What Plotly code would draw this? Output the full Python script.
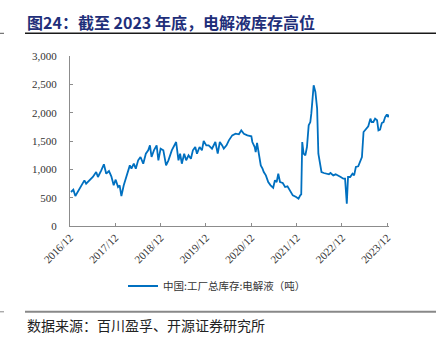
import plotly.graph_objects as go

dates = [
    "2016-12-09", "2016-12-28", "2017-01-13", "2017-02-01", "2017-02-28", "2017-03-27",
    "2017-04-10", "2017-05-07", "2017-06-03", "2017-06-30", "2017-07-14", "2017-08-10",
    "2017-08-31", "2017-09-19", "2017-10-11", "2017-10-30", "2017-11-18", "2017-12-04",
    "2017-12-23", "2018-01-05", "2018-01-19", "2018-02-07", "2018-03-01", "2018-03-28",
    "2018-04-10", "2018-04-29", "2018-05-15", "2018-06-03", "2018-06-22", "2018-07-14",
    "2018-08-04", "2018-08-23", "2018-09-06", "2018-09-19", "2018-10-08", "2018-10-30",
    "2018-11-13", "2018-12-01", "2018-12-23", "2019-01-14", "2019-02-02", "2019-03-01",
    "2019-04-05", "2019-04-24", "2019-05-07", "2019-05-21", "2019-06-09", "2019-06-25",
    "2019-07-14", "2019-08-02", "2019-08-18", "2019-09-06", "2019-09-20", "2019-10-11",
    "2019-10-30", "2019-11-13", "2019-12-04", "2019-12-23", "2020-01-19", "2020-02-15",
    "2020-03-05", "2020-03-22", "2020-04-10", "2020-04-23", "2020-05-15", "2020-06-03",
    "2020-06-30", "2020-07-27", "2020-08-23", "2020-09-11", "2020-10-02", "2020-10-30",
    "2020-12-01", "2020-12-09", "2020-12-28", "2021-01-05", "2021-01-16", "2021-02-01",
    "2021-02-15", "2021-03-01", "2021-03-11", "2021-03-28", "2021-04-16", "2021-05-05",
    "2021-05-26", "2021-06-09", "2021-06-23", "2021-07-06", "2021-07-20", "2021-08-11",
    "2021-08-30", "2021-09-18", "2021-10-09", "2021-10-31", "2021-11-27", "2021-12-16",
    "2021-12-30", "2022-01-07", "2022-01-15", "2022-01-26", "2022-02-09", "2022-02-22",
    "2022-03-08", "2022-03-21", "2022-03-29", "2022-04-09", "2022-04-17", "2022-05-01",
    "2022-05-15", "2022-05-25", "2022-06-05", "2022-06-19", "2022-07-08", "2022-07-30",
    "2022-08-18", "2022-08-31", "2022-09-22", "2022-10-11", "2022-10-30", "2022-11-21",
    "2022-12-12", "2022-12-26", "2023-01-09", "2023-01-19", "2023-02-05", "2023-02-24",
    "2023-03-09", "2023-03-23", "2023-04-11", "2023-04-27", "2023-05-11", "2023-05-24",
    "2023-06-12", "2023-07-01", "2023-07-18", "2023-07-28", "2023-08-11", "2023-08-25",
    "2023-09-10", "2023-09-21", "2023-10-04", "2023-10-18", "2023-11-01", "2023-11-14",
    "2023-11-28", "2023-12-06", "2023-12-14",
]

inventory = [
    600, 640, 530, 600, 718, 806,
    747, 806, 865, 953, 865, 982,
    1090, 923, 970, 876, 718, 818,
    688, 718, 529, 718, 894, 1070,
    1012, 1100, 1012, 1159, 1218, 1100,
    1276, 1335, 1423, 1218, 1335, 1423,
    1159, 1365, 1335, 1070, 1159, 1335,
    1482, 1159, 1276, 1100, 1276, 1159,
    1247, 1188, 1335, 1394, 1276, 1394,
    1335, 1500, 1423, 1423, 1365, 1482,
    1276, 1482, 1423, 1365, 1423, 1512,
    1600, 1629, 1618, 1688, 1629, 1600,
    1582, 1482, 1394, 1306, 1465, 1276,
    1070, 1012, 953, 894, 776, 718,
    676, 806, 776, 923, 776, 759,
    688, 700, 629, 541, 512, 482,
    541, 559, 1482, 1276, 1247, 1394,
    1776, 1835, 1982, 2394, 2482, 2365,
    2071, 1276, 1129, 953, 935, 923,
    912, 935, 894, 912, 894, 865,
    835, 835, 394, 865, 865, 923,
    894, 1041, 1053, 1129, 1218, 1659,
    1718, 1759, 1894, 1835, 1835, 1894,
    1865, 1688, 1700, 1818, 1835, 1923,
    1970, 1923, 1965,
]

tick_vals = ["2016-12-01", "2017-12-01", "2018-12-01", "2019-12-01",
             "2020-12-01", "2021-12-01", "2022-12-01", "2023-12-01"]
tick_text = ["2016/12", "2017/12", "2018/12", "2019/12",
             "2020/12", "2021/12", "2022/12", "2023/12"]
y_ticks = [0, 500, 1000, 1500, 2000, 2500, 3000]

series_name = "中国:工厂总库存:电解液（吨）"
title_text = "图24：截至 2023 年底，电解液库存高位"
source_text = "数据来源：百川盈孚、开源证券研究所"

W, H = 442, 343
L, R, T, B = 70, 389, 55.7, 225.7
pw, ph = R - L, B - T


def px(x):
    return (x - L) / pw


def py(y):
    return (B - y) / ph


fig = go.Figure()
fig.add_trace(go.Scatter(
    x=dates, y=inventory, mode="lines", name=series_name,
    line=dict(color="#0070C0", width=1.8),
))

axis_col = "#8C8C8C"
fig.update_layout(
    width=W, height=H,
    margin=dict(l=L, r=W - R, t=T, b=H - B, pad=0),
    paper_bgcolor="white", plot_bgcolor="white",
    showlegend=True,
    legend=dict(orientation="h", x=px(123), y=py(285.7), xanchor="left", yanchor="middle",
                font=dict(family="Noto Sans CJK SC", size=10.5, color="#333333"),
                bgcolor="rgba(0,0,0,0)", itemwidth=30),
    xaxis=dict(
        type="date", range=["2016-12-01", "2023-12-15"],
        tickmode="array", tickvals=tick_vals, ticktext=tick_text, tickangle=-45,
        ticks="inside", ticklen=3, tickcolor=axis_col,
        showline=True, linecolor=axis_col, linewidth=1, showgrid=False, zeroline=False,
        tickfont=dict(family="Liberation Serif", size=11, color="#333333"),
    ),
    yaxis=dict(
        range=[0, 3000], tickmode="array", tickvals=y_ticks, tickformat=",d",
        ticks="inside", ticklen=3, tickcolor=axis_col,
        showline=True, linecolor=axis_col, linewidth=1, showgrid=False, zeroline=False,
        tickfont=dict(family="Liberation Serif", size=11, color="#333333"),
        ticklabelstandoff=10,
    ),
)

fig.add_annotation(
    text="<b>" + title_text + "</b>", xref="paper", yref="paper",
    x=px(25), y=py(22), xanchor="left", yanchor="middle", showarrow=False,
    font=dict(family="Noto Sans CJK SC", size=16, color="#1F2F7A"),
)
fig.add_annotation(
    text=source_text, xref="paper", yref="paper",
    x=px(25), y=py(325), xanchor="left", yanchor="middle", showarrow=False,
    font=dict(family="Noto Sans CJK SC", size=14, color="#222222"),
)

fig.add_shape(type="line", xref="paper", yref="paper",
              x0=px(25), x1=px(436), y0=py(33), y1=py(33),
              line=dict(color="#1A1A1A", width=1.5))
fig.add_shape(type="line", xref="paper", yref="paper",
              x0=px(0), x1=px(4), y0=py(33), y1=py(33),
              line=dict(color="#555555", width=1))
fig.add_shape(type="line", xref="paper", yref="paper",
              x0=px(25), x1=px(436), y0=py(311.5), y1=py(311.5),
              line=dict(color="#888888", width=2))
fig.add_shape(type="line", xref="paper", yref="paper",
              x0=px(0), x1=px(4), y0=py(311.5), y1=py(311.5),
              line=dict(color="#888888", width=1))

fig.write_html("out.html")
